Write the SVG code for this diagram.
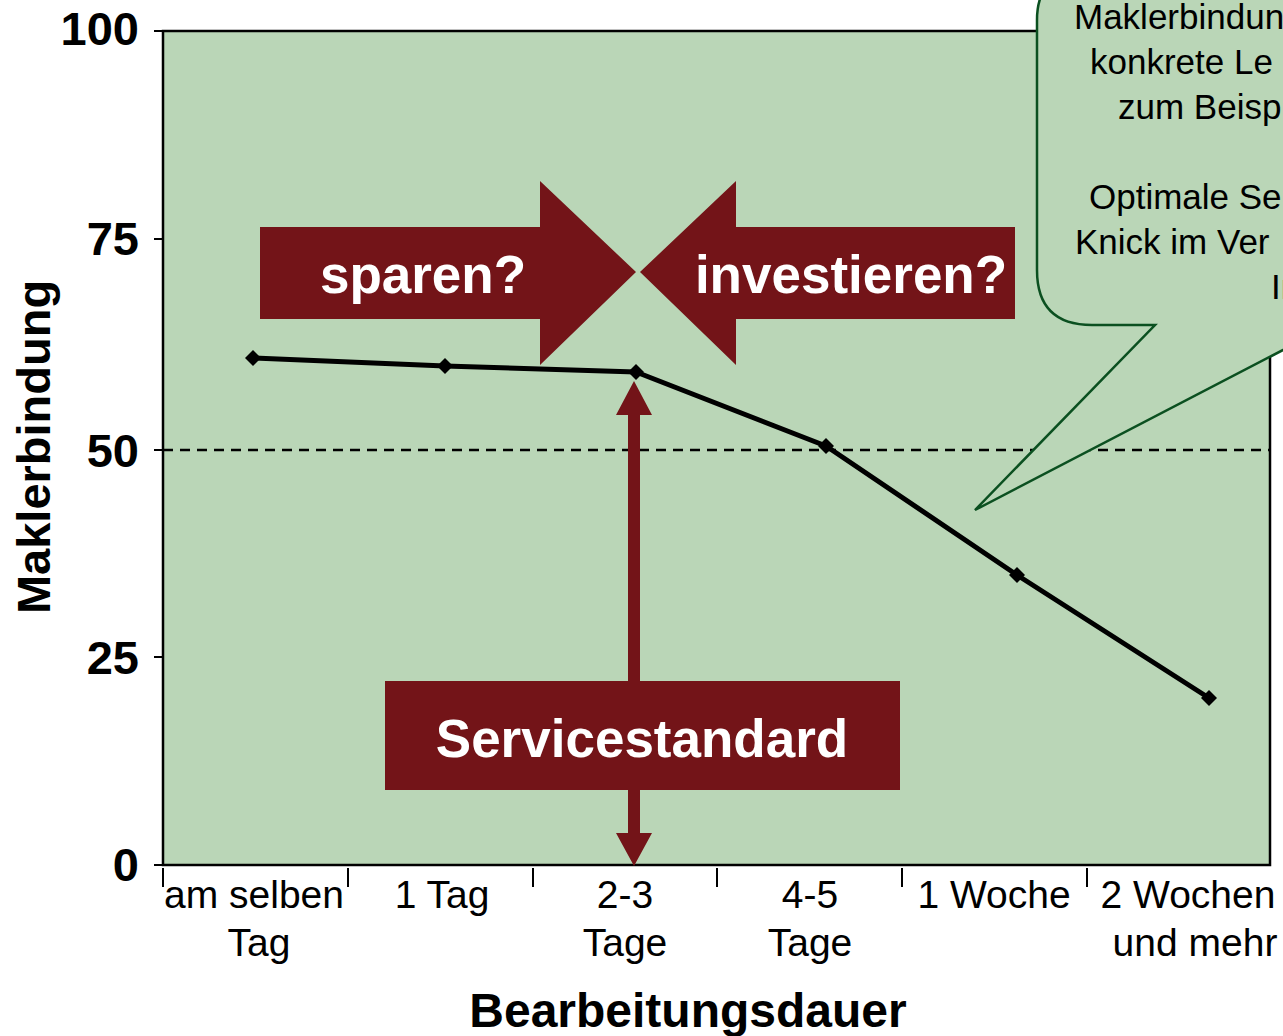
<svg xmlns="http://www.w3.org/2000/svg" width="1283" height="1036" viewBox="0 0 1283 1036">
<style>
.ax{font-family:"Liberation Sans",Arial,sans-serif;font-weight:bold;fill:#000}
.cat{font-family:"Liberation Sans",Arial,sans-serif;font-size:39px;fill:#000;text-anchor:middle}
.call{font-family:"Liberation Sans",Arial,sans-serif;font-size:35px;fill:#000}
.wl{font-family:"Liberation Sans",Arial,sans-serif;font-weight:bold;fill:#fff;text-anchor:middle}
.red{fill:#731418}
.tick{stroke:#000;stroke-width:2}
</style>
<defs>
<path id="dm" d="M0,-8 L8,0 L0,8 L-8,0 Z" fill="#000"/>
</defs>
<rect width="1283" height="1036" fill="#fff"/>
<g id="plot">
<rect x="163" y="31" width="1107" height="834" fill="#BAD6B7" stroke="#000" stroke-width="2.5"/>
<line x1="163" y1="450" x2="1270" y2="450" stroke="#000" stroke-width="2.5" stroke-dasharray="10 7"/>
</g>
<g id="yaxis">
<g class="tick">
<line x1="154" y1="31" x2="163" y2="31"/>
<line x1="154" y1="239" x2="163" y2="239"/>
<line x1="154" y1="450" x2="163" y2="450"/>
<line x1="154" y1="657" x2="163" y2="657"/>
<line x1="154" y1="865" x2="163" y2="865"/>
</g>
<g class="ax" font-size="47" text-anchor="end">
<text x="139" y="45">100</text>
<text x="139" y="255">75</text>
<text x="139" y="467">50</text>
<text x="139" y="674">25</text>
<text x="139" y="881">0</text>
</g>
<text class="ax" font-size="47" text-anchor="middle" transform="translate(50,447) rotate(-90)">Maklerbindung</text>
</g>
<g id="xaxis">
<g class="tick">
<line x1="163" y1="868" x2="163" y2="887"/>
<line x1="348" y1="868" x2="348" y2="887"/>
<line x1="533" y1="868" x2="533" y2="887"/>
<line x1="717" y1="868" x2="717" y2="887"/>
<line x1="902" y1="868" x2="902" y2="887"/>
<line x1="1087" y1="868" x2="1087" y2="887"/>
</g>
<text class="cat" x="254" y="908">am selben</text>
<text class="cat" x="259" y="956">Tag</text>
<text class="cat" x="442" y="908">1 Tag</text>
<text class="cat" x="625" y="908">2-3</text>
<text class="cat" x="625" y="956">Tage</text>
<text class="cat" x="810" y="908">4-5</text>
<text class="cat" x="810" y="956">Tage</text>
<text class="cat" x="994" y="908">1 Woche</text>
<text class="cat" x="1188" y="908">2 Wochen</text>
<text class="cat" x="1195" y="956">und mehr</text>
<text class="ax" font-size="48" text-anchor="middle" x="688" y="1027">Bearbeitungsdauer</text>
</g>
<g id="series">
<polyline points="253,358 445,366 636,372 826,446 1017,575 1209,698" fill="none" stroke="#000" stroke-width="5" stroke-linejoin="round"/>
<use href="#dm" x="253" y="358"/>
<use href="#dm" x="445" y="366"/>
<use href="#dm" x="636" y="372"/>
<use href="#dm" x="826" y="446"/>
<use href="#dm" x="1017" y="575"/>
<use href="#dm" x="1209" y="698"/>
</g>
<g id="sparen">
<path class="red" d="M260,227 H540 V181 L636,272 L540,365 V319 H260 Z"/>
<text class="wl" font-size="53" x="423" y="293">sparen?</text>
</g>
<g id="investieren">
<path class="red" d="M1015,227 H736 V181 L640,272 L736,365 V319 H1015 Z"/>
<text class="wl" font-size="53" x="851" y="293">investieren?</text>
</g>
<g id="connectors">
<path class="red" d="M634,381 L652,415 H640 V833 H652 L634,866 L616,833 H628 V415 H616 Z"/>
</g>
<g id="servicestandard">
<rect class="red" x="385" y="681" width="515" height="109"/>
<text class="wl" font-size="53" x="642" y="757">Servicestandard</text>
</g>
<g id="callout">
<path d="M1037,20 Q1037,-30 1090,-30 H1300 V345 L1283,350 L975,510 L1155,325 H1092 Q1037,325 1037,270 Z" fill="#BAD6B7" stroke="#0B5020" stroke-width="2.5" stroke-linejoin="miter"/>
<text class="call" x="1074" y="29">Maklerbindung</text>
<text class="call" x="1090" y="74">konkrete Le</text>
<text class="call" x="1118" y="119">zum Beisp</text>
<text class="call" x="1089" y="209">Optimale Se</text>
<text class="call" x="1075" y="254">Knick im Ver</text>
<text class="call" x="1271" y="299">In</text>
</g>
</svg>
